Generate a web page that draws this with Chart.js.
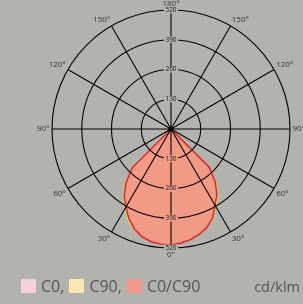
<!DOCTYPE html>
<html>
<head>
<meta charset="utf-8">
<script src="https://cdn.jsdelivr.net/npm/chart.js@4.4.1/dist/chart.umd.min.js"></script>
<style>
    html, body { margin: 0; padding: 0; background: #b3b3ae; }
    #wrap { position: relative; width: 303px; height: 304px; overflow: hidden; }
    #polar { position: absolute; left: 0; top: 0; }
    #legend { position: absolute; left: 21px; top: 277px; display: flex; align-items: center;
        font-family: "Open Sans", sans-serif; font-size: 16px; color: #555; line-height: 18px; }
    #legend .box { width: 15px; height: 14px; margin-right: 5px; }
    #legend .txt { margin-right: 5px; }
    #unit { position: absolute; right: 3px; top: 278px; font-family: "Open Sans", sans-serif;
        font-size: 14.5px; color: #555; line-height: 18px; }
</style>
</head>
<body>
<div id="wrap">
    <canvas id="polar" width="303" height="304"></canvas>
    <div id="legend"></div>
    <div id="unit">cd/klm</div>
</div>
<script>
// angle of each spoke, clockwise starting at the top (180°)
const angleLabels = [180, 175, 170, 165, 160, 155, 150, 145, 140, 135, 130, 125, 120, 115, 110, 105, 100, 95,
    90, 85, 80, 75, 70, 65, 60, 55, 50, 45, 40, 35, 30, 25, 20, 15, 10, 5,
    0, 5, 10, 15, 20, 25, 30, 35, 40, 45, 50, 55, 60, 65, 70, 75, 80, 85,
    90, 95, 100, 105, 110, 115, 120, 125, 130, 135, 140, 145, 150, 155, 160, 165, 170, 175];

const seriesNames = ['C0,', 'C90,', 'C0/C90'];

const c0Values = [0, 0, 0, 0, 0, 0, 0, 0, 0, 0, 0, 0, 0, 0, 0, 0, 0, 0,
    0, 0, 0, 0, 0, 0, 0, 0, 0, 228, 294, 344, 380, 425, 453, 472, 486, 495,
    502, 500, 495, 483, 461, 429, 390, 352, 300, 234, 0, 0, 0, 0, 0, 0, 0, 0,
    0, 0, 0, 0, 0, 0, 0, 0, 0, 0, 0, 0, 0, 0, 0, 0, 0, 0];

const c90Values = [0, 0, 0, 0, 0, 0, 0, 0, 0, 0, 0, 0, 0, 0, 0, 0, 0, 0,
    0, 0, 0, 0, 0, 0, 0, 0, 0, 232, 306, 358, 393, 436, 456, 474, 488, 497,
    504, 502, 497, 485, 470, 442, 403, 365, 311, 237, 0, 0, 0, 0, 0, 0, 0, 0,
    0, 0, 0, 0, 0, 0, 0, 0, 0, 0, 0, 0, 0, 0, 0, 0, 0, 0];

const c0c90Values = [0, 0, 0, 0, 0, 0, 0, 0, 0, 0, 0, 0, 0, 0, 0, 0, 0, 0,
    0, 0, 0, 0, 0, 0, 0, 0, 0, 235, 300, 350, 385, 430, 458, 477, 491, 500,
    507, 505, 500, 488, 466, 434, 395, 357, 305, 240, 0, 0, 0, 0, 0, 0, 0, 0,
    0, 0, 0, 0, 0, 0, 0, 0, 0, 0, 0, 0, 0, 0, 0, 0, 0, 0];

const tickValues = [130, 260, 390, 520];

const bgColor = '#b3b3ae';
const fillMain = '#f19a86';
const tickFont = { family: 'Open Sans', size: 6.5 };

// angle labels round the rim + the tick labels along the 0° spoke
const polarLabels = {
    id: 'polarLabels',
    afterDraw(chart) {
        const scale = chart.scales.r;
        const c = chart.ctx;
        c.save();
        c.font = '8px "Open Sans"';
        c.fillStyle = '#333';
        angleLabels.forEach(function(a, i) {
            if (a % 30 !== 0) return;
            const p = scale.getPointPosition(i, scale.drawingArea + 2.5);
            const dx = p.x - scale.xCenter;
            const dy = p.y - scale.yCenter;
            c.textAlign = Math.abs(dx) < 1 ? 'center' : (dx < 0 ? 'right' : 'left');
            c.textBaseline = Math.abs(dy) < 1 ? 'middle' : (dy < 0 ? 'bottom' : 'top');
            c.fillText(a + '°', p.x, p.y);
        });

        const bottom = angleLabels.indexOf(0);
        c.font = '6.5px "Open Sans"';
        c.textAlign = 'center';
        c.textBaseline = 'middle';
        tickValues.forEach(function(v) {
            const p = scale.getPointPosition(bottom, scale.getDistanceFromCenterForValue(v));
            const w = c.measureText(String(v)).width + 3;
            c.fillStyle = v < c0c90Values[bottom] ? fillMain : bgColor;
            c.fillRect(p.x - w / 2, p.y - 3.5, w, 7);
            c.fillStyle = '#222';
            c.fillText(String(v), p.x, p.y);
        });

        // hub
        c.fillStyle = '#000';
        c.beginPath();
        c.arc(scale.xCenter, scale.yCenter, 2.5, 0, Math.PI * 2);
        c.fill();
        c.restore();
    }
};

const ctx = document.getElementById('polar');
const chart = new Chart(ctx, {
    type: 'radar',
    data: {
        labels: angleLabels,
        datasets: [{
            label: seriesNames[0],
            data: c0Values,
            backgroundColor: '#f6d0d6',
            borderColor: '#f3b6c0',
            borderWidth: 1,
            fill: true,
            order: 2
        }, {
            label: seriesNames[1],
            data: c90Values,
            backgroundColor: '#fde8b4',
            borderColor: '#cfe04e',
            borderWidth: 1.2,
            fill: true,
            order: 1
        }, {
            label: seriesNames[2],
            data: c0c90Values,
            backgroundColor: fillMain,
            borderColor: '#e3202c',
            borderWidth: 1.5,
            fill: true,
            order: 0
        }]
    },
    options: {
        responsive: false,
        animation: false,
        layout: { padding: { left: 48, top: 6, right: 9, bottom: 52 } },
        elements: { point: { radius: 0, hoverRadius: 0 }, line: { tension: 0 } },
        plugins: {
            legend: { display: false },
            tooltip: { enabled: false }
        },
        scales: {
            r: {
                min: 0,
                max: 520,
                startAngle: 0,
                grid: { circular: true, color: '#000', lineWidth: 1.1, z: 1 },
                angleLines: {
                    display: true,
                    z: 1,
                    color: function(context) {
                        return angleLabels[context.index] % 30 === 0 ? '#000' : 'transparent';
                    },
                    lineWidth: function(context) {
                        return angleLabels[context.index] % 30 === 0 ? 1.1 : 0;
                    }
                },
                pointLabels: { display: false },
                ticks: {
                    stepSize: 130,
                    z: 2,
                    font: tickFont,
                    color: '#222',
                    showLabelBackdrop: true,
                    backdropColor: bgColor,
                    backdropPadding: { x: 1.5, y: 0 }
                }
            }
        }
    },
    plugins: [polarLabels]
});

// legend under the chart
const legend = document.getElementById('legend');
chart.data.datasets.forEach(function(ds) {
    const box = document.createElement('span');
    box.className = 'box';
    box.style.background = ds.backgroundColor;
    const txt = document.createElement('span');
    txt.className = 'txt';
    txt.textContent = ds.label;
    legend.appendChild(box);
    legend.appendChild(txt);
});
</script>
</body>
</html>
